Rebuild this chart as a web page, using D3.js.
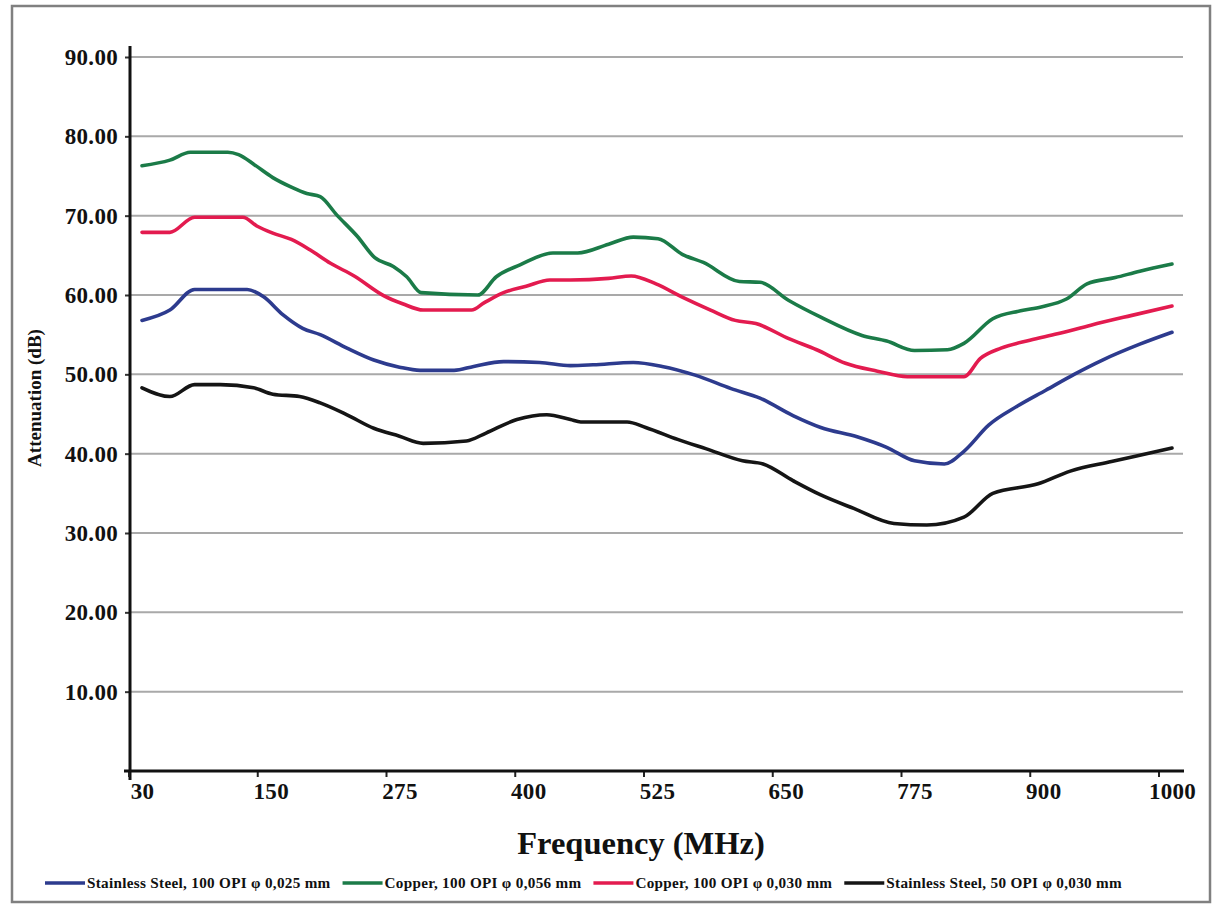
<!DOCTYPE html>
<html>
<head>
<meta charset="utf-8">
<script src="https://cdn.jsdelivr.net/npm/d3@7"></script>
<style>
  html, body { margin: 0; padding: 0; background: #ffffff; }
  svg { display: block; }
  text { font-family: "Liberation Serif", "Times New Roman", serif; font-weight: bold; fill: #111; }
</style>
</head>
<body>
<svg id="chart" width="1213" height="904"></svg>
<script>
// ---------- data ----------
const freqTicks = [30, 150, 275, 400, 525, 650, 775, 900, 1000];
const yTicks = [10, 20, 30, 40, 50, 60, 70, 80, 90];

const seriesNames = [
  "Stainless Steel, 100 OPI \u03c6 0,025 mm",
  "Copper, 100 OPI \u03c6 0,056 mm",
  "Copper, 100 OPI \u03c6 0,030 mm",
  "Stainless Steel, 50 OPI \u03c6 0,030 mm"
];
const seriesColors = ["#2d3b8e", "#1b7b48", "#e31b4f", "#151515"];

const blueFreq  = [30,56,79,128,143,162,181,198,224,250,275,295,328,347,376,411,441,463,502,530,562,597,625,657,684,720,748,775,804,823,847,875,902,924,946,975,1000];
const blueVal   = [56.8,58.1,60.7,60.7,59.8,57.5,55.8,55.0,53.3,51.8,50.9,50.5,50.5,51.0,51.6,51.5,51.1,51.2,51.5,51.0,49.9,48.2,47.0,44.8,43.3,42.1,40.8,39.1,38.7,40.3,43.6,46.0,48.0,50.0,51.8,53.8,55.3];

const greenFreq = [30,56,75,110,120,135,152,170,185,198,214,234,251,269,282,296,351,369,392,424,448,478,502,526,550,570,605,625,653,684,724,748,775,807,823,851,878,898,918,934,956,975,1000];
const greenVal  = [76.3,77.0,78.0,78.0,77.7,76.4,74.8,73.6,72.8,72.4,70.1,67.4,64.7,63.6,62.3,60.3,60.0,62.3,63.8,65.3,65.3,66.4,67.3,67.1,65.1,64.1,61.7,61.6,59.3,57.2,54.9,54.2,53.0,53.1,53.9,57.0,58.0,58.5,59.5,61.4,62.2,63.0,63.9];

const redFreq   = [30,56,79,124,137,152,170,188,208,231,260,278,298,345,357,376,398,421,441,478,500,524,550,577,601,621,653,680,708,739,768,823,839,859,887,911,937,968,1000];
const redVal    = [67.9,67.9,69.8,69.8,68.7,67.8,67.0,65.7,64.0,62.4,59.9,58.9,58.1,58.1,59.0,60.3,61.1,61.9,61.9,62.1,62.4,61.4,59.7,58.1,56.8,56.4,54.5,53.1,51.4,50.4,49.7,49.7,52.0,53.3,54.3,55.1,56.2,57.4,58.6];

const blackFreq = [30,56,79,103,134,152,178,198,224,250,275,298,340,359,389,418,441,451,496,514,545,573,608,628,657,684,716,755,787,823,851,895,921,953,975,1000];
const blackVal  = [48.3,47.2,48.7,48.7,48.3,47.5,47.2,46.4,44.9,43.2,42.2,41.3,41.6,42.6,44.3,44.9,44.3,44.0,44.0,43.3,41.8,40.6,39.1,38.7,36.6,34.8,33.1,31.2,31.0,32.0,35.0,36.2,37.8,39.0,39.8,40.7];

const seriesFreqs = [blueFreq, greenFreq, redFreq, blackFreq];
const seriesVals  = [blueVal, greenVal, redVal, blackVal];

// ---------- layout ----------
const svg = d3.select("#chart");
const axisX = 130, axisY = 771, plotRight = 1184, plotTop = 57;
const step = 128.75, half = 13;

// frame
svg.append("rect").attr("x", 12).attr("y", 6).attr("width", 1198).attr("height", 896)
  .attr("fill", "#fff").attr("stroke", "#808080").attr("stroke-width", 2.5);

// scales
const x = d3.scaleLinear()
  .domain(freqTicks)
  .range(freqTicks.map((d, i) => axisX - 1 + half + i * step));
const y = d3.scaleLinear().domain([0, 90]).range([axisY, plotTop]);

// gridlines
svg.append("g").selectAll("line").data(yTicks).join("line")
  .attr("x1", axisX).attr("x2", plotRight - 1)
  .attr("y1", d => y(d)).attr("y2", d => y(d))
  .attr("stroke", "#a9a9a9").attr("stroke-width", 2);

// y axis
const yAxis = d3.axisLeft(y).tickValues(yTicks).tickFormat(d3.format(".2f")).tickSize(5).tickPadding(8);
const gy = svg.append("g").attr("transform", `translate(${axisX},0)`).call(yAxis);
gy.select(".domain").remove();
gy.selectAll(".tick line").attr("stroke", "#333").attr("stroke-width", 2);
gy.selectAll(".tick text").attr("font-size", 23).attr("font-family", "Liberation Serif, serif")
  .attr("font-weight", "bold").attr("fill", "#111").attr("x", -12).attr("letter-spacing", 0.3);
svg.append("line").attr("x1", axisX).attr("x2", axisX).attr("y1", 46).attr("y2", axisY + 9)
  .attr("stroke", "#111").attr("stroke-width", 3);

// x axis
const xAxis = d3.axisBottom(x).tickValues(freqTicks).tickFormat(d3.format("d")).tickSize(0).tickPadding(28);
const gx = svg.append("g").attr("transform", `translate(0,${axisY})`).call(xAxis);
gx.select(".domain").remove();
gx.selectAll(".tick text").attr("font-size", 23).attr("font-family", "Liberation Serif, serif")
  .attr("font-weight", "bold").attr("fill", "#111").attr("dy", "0").attr("letter-spacing", 0.3);
svg.append("g").selectAll("line").data(freqTicks).join("line")
  .attr("x1", d => x(d) - half).attr("x2", d => x(d) - half)
  .attr("y1", axisY).attr("y2", axisY + 6)
  .attr("stroke", "#222").attr("stroke-width", 2);
svg.append("line").attr("x1", axisX - 6).attr("x2", plotRight).attr("y1", axisY).attr("y2", axisY)
  .attr("stroke", "#111").attr("stroke-width", 3);

// axis titles
svg.append("text").attr("x", 641).attr("y", 854).attr("text-anchor", "middle")
  .attr("font-size", 32.5).text("Frequency (MHz)");
svg.append("text").attr("transform", "translate(41,398) rotate(-90)").attr("text-anchor", "middle")
  .attr("font-size", 19).text("Attenuation (dB)");

// series lines
const line = d3.line().x(d => x(d[0])).y(d => y(d[1])).curve(d3.curveMonotoneX);
const order = [3, 0, 2, 1];
order.forEach(k => {
  const pts = seriesFreqs[k].map((f, i) => [f, seriesVals[k][i]]);
  svg.append("path").datum(pts).attr("d", line)
    .attr("fill", "none").attr("stroke", seriesColors[k]).attr("stroke-width", 3.6)
    .attr("stroke-linejoin", "round").attr("stroke-linecap", "round");
});

// legend
const lg = svg.append("g");
let lx = 45;
const ly = 883;
seriesNames.forEach((name, k) => {
  lg.append("line").attr("x1", lx).attr("x2", lx + 40).attr("y1", ly).attr("y2", ly)
    .attr("stroke", seriesColors[k]).attr("stroke-width", 3.5);
  const t = lg.append("text").attr("x", lx + 42).attr("y", ly + 5)
    .attr("font-size", 15.2).attr("letter-spacing", 0.3).text(name);
  const w = t.node().getComputedTextLength();
  lx = lx + 42 + w + 12;
});
</script>
</body>
</html>
